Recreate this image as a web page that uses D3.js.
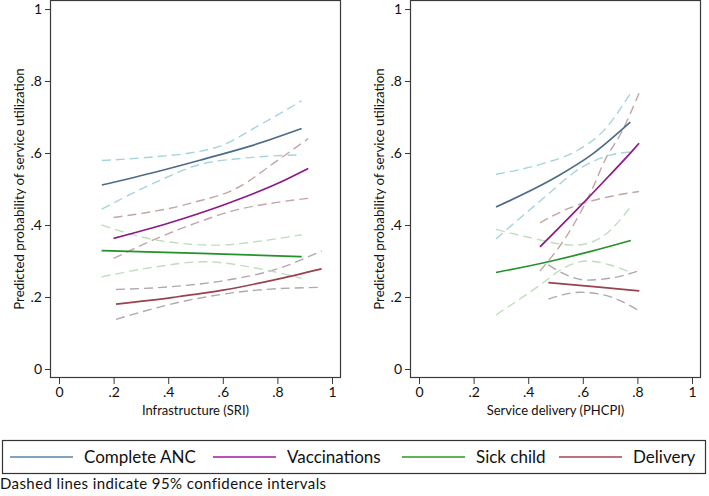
<!DOCTYPE html>
<html>
<head>
<meta charset="utf-8">
<script src="https://cdn.jsdelivr.net/npm/d3@7"></script>
<style>
  body { margin: 0; background: #fff; }
  svg { display: block; font-family: Lato, "Open Sans", sans-serif; }
</style>
</head>
<body>
<svg id="chart" width="709" height="496"></svg>
<script>
// ---------------- DATA ----------------
const seriesNames = ["Complete ANC", "Vaccinations", "Sick child", "Delivery"];
const tickValues = [0, 0.2, 0.4, 0.6, 0.8, 1];
const tickLabels = ["0", ".2", ".4", ".6", ".8", "1"];
const yTitle = "Predicted probability of service utilization";
const xTitles = ["Infrastructure (SRI)", "Service delivery (PHCPI)"];
const footnote = "Dashed lines indicate 95% confidence intervals";

// Left panel: Infrastructure (SRI) — [x, predicted probability]
const sriAnc   = [[0.157,0.511],[0.358,0.548],[0.516,0.58],[0.70,0.619],[0.889,0.668]];
const sriAncHi = [[0.157,0.579],[0.358,0.59],[0.48,0.60],[0.60,0.622],[0.724,0.673],[0.889,0.745]];
const sriAncLo = [[0.157,0.444],[0.358,0.52],[0.516,0.568],[0.666,0.585],[0.889,0.595]];
const sriVac   = [[0.2,0.363],[0.4,0.405],[0.6,0.455],[0.8,0.515],[0.913,0.557]];
const sriVacHi = [[0.2,0.421],[0.48,0.46],[0.663,0.507],[0.785,0.571],[0.913,0.64]];
const sriVacLo = [[0.2,0.307],[0.35,0.36],[0.5,0.405],[0.65,0.442],[0.8,0.463],[0.913,0.474]];
const sriSick   = [[0.156,0.329],[0.52,0.321],[0.889,0.312]];
const sriSickHi = [[0.156,0.40],[0.358,0.358],[0.578,0.344],[0.724,0.354],[0.889,0.373]];
const sriSickLo = [[0.156,0.256],[0.358,0.284],[0.529,0.298],[0.724,0.28],[0.889,0.252]];
const sriDel   = [[0.209,0.18],[0.419,0.199],[0.6,0.219],[0.785,0.247],[0.962,0.278]];
const sriDelHi = [[0.209,0.221],[0.4,0.228],[0.6,0.245],[0.8,0.278],[0.962,0.328]];
const sriDelLo = [[0.209,0.138],[0.48,0.192],[0.724,0.219],[0.962,0.227]];

// Right panel: Service delivery (PHCPI)
const phcAnc   = [[0.282,0.45],[0.504,0.534],[0.626,0.592],[0.774,0.686]];
const phcAncHi = [[0.282,0.541],[0.45,0.57],[0.58,0.607],[0.68,0.665],[0.774,0.765]];
const phcAncLo = [[0.282,0.361],[0.449,0.47],[0.596,0.56],[0.70,0.594],[0.774,0.603]];
const phcVac   = [[0.443,0.339],[0.571,0.437],[0.693,0.534],[0.779,0.604],[0.806,0.627]];
const phcVacHi = [[0.443,0.272],[0.547,0.377],[0.633,0.497],[0.681,0.58],[0.74,0.655],[0.806,0.766]];
const phcVacLo = [[0.443,0.406],[0.547,0.446],[0.669,0.474],[0.806,0.493]];
const phcSick   = [[0.282,0.268],[0.474,0.298],[0.626,0.326],[0.776,0.357]];
const phcSickHi = [[0.282,0.388],[0.40,0.366],[0.571,0.344],[0.66,0.362],[0.776,0.451]];
const phcSickLo = [[0.282,0.15],[0.443,0.233],[0.529,0.28],[0.614,0.30],[0.70,0.289],[0.776,0.268]];
const phcDel   = [[0.474,0.24],[0.64,0.229],[0.807,0.217]];
const phcDelHi = [[0.474,0.289],[0.541,0.261],[0.614,0.247],[0.70,0.252],[0.807,0.273]];
const phcDelLo = [[0.474,0.194],[0.59,0.213],[0.675,0.206],[0.807,0.162]];

// ---------------- STYLE ----------------
const lineColors = ["#4d6c88", "#8a1a88", "#23922a", "#98424e"];
const ciColors   = ["#a6d4de", "#c3a6a4", "#bfdebe", "#b0a7b0"];
const legendColors = ["#5a84a6", "#a21aa0", "#2a9a2a", "#a8444e"];

const panels = [
  { title: xTitles[0], x0: 59, lines: [sriAnc, sriVac, sriSick, sriDel],
    his: [sriAncHi, sriVacHi, sriSickHi, sriDelHi], los: [sriAncLo, sriVacLo, sriSickLo, sriDelLo] },
  { title: xTitles[1], x0: 419, lines: [phcAnc, phcVac, phcSick, phcDel],
    his: [phcAncHi, phcVacHi, phcSickHi, phcDelHi], los: [phcAncLo, phcVacLo, phcSickLo, phcDelLo] }
];

const svg = d3.select("#chart");
const yScale = d3.scaleLinear().domain([0, 1]).range([369, 9]);
const pad = 9;
const fmt = d => tickLabels[tickValues.indexOf(d)];

panels.forEach(p => {
  const xScale = d3.scaleLinear().domain([0, 1]).range([p.x0, p.x0 + 273]);
  const left = p.x0 - pad, right = p.x0 + 273 + pad;
  const top = 9 - pad, bottom = 369 + pad;
  const g = svg.append("g");

  // frame
  g.append("rect")
    .attr("x", left + 0.5).attr("y", top + 0.5)
    .attr("width", right - left - 1).attr("height", bottom - top - 1)
    .attr("fill", "none").attr("stroke", "#3a3a3a").attr("stroke-width", 1.2);

  // y axis
  const ya = g.append("g").attr("transform", `translate(${left},0)`)
    .call(d3.axisLeft(yScale).tickValues(tickValues).tickFormat(fmt).tickSize(5).tickPadding(3));
  ya.select(".domain").remove();
  ya.selectAll("line").attr("stroke", "#3a3a3a");
  ya.selectAll("text").attr("font-size", 14).attr("fill", "#111").attr("font-family", "Lato, sans-serif");

  // x axis
  const xa = g.append("g").attr("transform", `translate(0,${bottom})`)
    .call(d3.axisBottom(xScale).tickValues(tickValues).tickFormat(fmt).tickSize(6).tickPadding(3));
  xa.select(".domain").remove();
  xa.selectAll("line").attr("stroke", "#3a3a3a");
  xa.selectAll("text").attr("font-size", 14).attr("fill", "#111").attr("font-family", "Lato, sans-serif");

  // titles
  g.append("text")
    .attr("x", (xScale(0) + xScale(1)) / 2).attr("y", 415)
    .attr("text-anchor", "middle").attr("font-size", 13).attr("fill", "#111")
    .text(p.title);
  g.append("text")
    .attr("transform", `translate(${left - 26},${189}) rotate(-90)`)
    .attr("text-anchor", "middle").attr("font-size", 13.3).attr("fill", "#111")
    .text(yTitle);

  const line = d3.line().x(d => xScale(d[0])).y(d => yScale(d[1])).curve(d3.curveMonotoneX);

  // CI dashed lines
  [3, 2, 1, 0].forEach(i => {
    [p.his[i], p.los[i]].forEach(arr => {
      g.append("path").datum(arr).attr("d", line)
        .attr("fill", "none").attr("stroke", ciColors[i])
        .attr("stroke-width", 1.4).attr("stroke-dasharray", "9,5");
    });
  });
  // predicted lines
  [3, 2, 1, 0].forEach(i => {
    g.append("path").datum(p.lines[i]).attr("d", line)
      .attr("fill", "none").attr("stroke", lineColors[i]).attr("stroke-width", 1.7);
  });
});

// legend
const lg = svg.append("g");
lg.append("rect").attr("x", 2.5).attr("y", 440.5).attr("width", 703).attr("height", 33)
  .attr("fill", "#fff").attr("stroke", "#333").attr("stroke-width", 1.2);
const legendX = [10, 213, 402, 559];
seriesNames.forEach((name, i) => {
  lg.append("line").attr("x1", legendX[i]).attr("x2", legendX[i] + 63)
    .attr("y1", 457).attr("y2", 457).attr("stroke", legendColors[i]).attr("stroke-width", 1.4);
  lg.append("text").attr("x", legendX[i] + 74).attr("y", 463)
    .attr("font-size", 17).attr("fill", "#111").text(name);
});

svg.append("text").attr("x", 0).attr("y", 489).attr("font-size", 15)
  .attr("letter-spacing", 0.4).attr("fill", "#111").text(footnote);
</script>
</body>
</html>
